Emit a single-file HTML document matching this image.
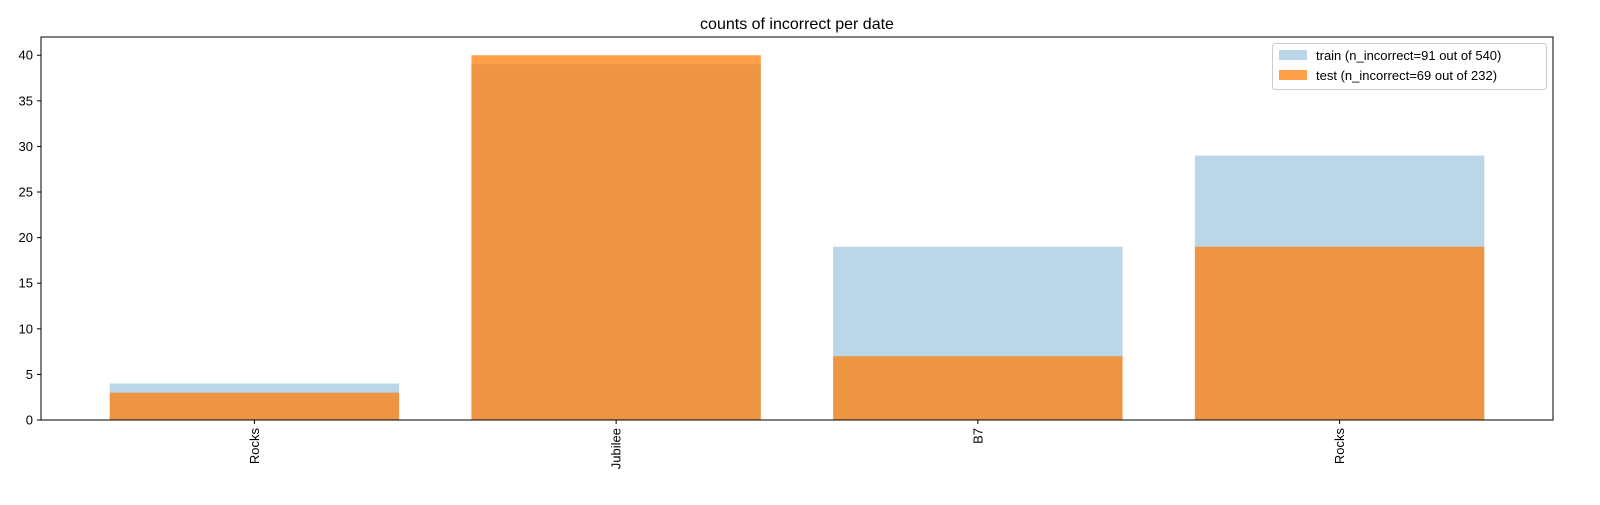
<!DOCTYPE html>
<html><head><meta charset="utf-8"><style>
body{margin:0;background:#fff;}
svg{font-family:"Liberation Sans","DejaVu Sans",sans-serif;}
</style></head><body>
<svg id="chart" width="1600" height="500" xmlns="http://www.w3.org/2000/svg">
<rect width="1600" height="500" fill="#fff"/>
<text x="797" y="29" font-size="16" text-anchor="middle">counts of incorrect per date</text>
<g id="bars"></g>
<g id="axes"></g>
<rect x="41" y="37" width="1512" height="383" fill="none" stroke="#000" stroke-width="1"/>
<g>
<rect x="1272.5" y="43.5" width="274" height="46" rx="3" fill="#fff" fill-opacity="0.8" stroke="#ccc"/>
<g>
<rect x="1279" y="50" width="28" height="10" fill="#1f77b4" fill-opacity="0.3"/>
<text x="1316" y="60" font-size="13">train (n_incorrect=91 out of 540)</text>
</g>
<g>
<rect x="1279" y="70" width="28" height="10" fill="#ff7f0e" fill-opacity="0.75"/>
<text x="1316" y="80" font-size="13">test (n_incorrect=69 out of 232)</text>
</g>
</g>
</svg>
<script>
const categories = ["Rocks","Jubilee","B7","Rocks"];
const trainValues = [4,39,19,29];
const testValues = [3,40,7,19];
const yTicks = [0,5,10,15,20,25,30,35,40];

const L=41,R=1553,T=37,B=420;
const xMin=-0.59,xMax=3.59,yMax=42;
const x=v=>L+(v-xMin)/(xMax-xMin)*(R-L);
const y=v=>B-v/yMax*(B-T);
const NS="http://www.w3.org/2000/svg";
const bars=document.getElementById('bars'),axes=document.getElementById('axes');
function mk(tag,attrs,parent){const e=document.createElementNS(NS,tag);for(const k in attrs)e.setAttribute(k,attrs[k]);parent.appendChild(e);return e;}
function drawSeries(vals,color,op,name){
  vals.forEach((v,i)=>{
    const r=mk('rect',{x:x(i-0.4),y:y(v),width:x(i+0.4)-x(i-0.4),height:y(0)-y(v),fill:color,'fill-opacity':op},bars);
    
    
  });
}
drawSeries(trainValues,'#1f77b4',0.3,'train');
drawSeries(testValues,'#ff7f0e',0.75,'test');
yTicks.forEach(t=>{
  const yy=y(t);
  mk('line',{x1:L-4,x2:L,y1:yy,y2:yy,stroke:'#000'},axes);
  const tx=mk('text',{x:L-8,y:yy+4.5,'font-size':13,'text-anchor':'end'},axes);
  tx.textContent=t;
  
  
});
categories.forEach((c,i)=>{
  const xx=x(i);
  mk('line',{x1:xx,x2:xx,y1:B,y2:B+4,stroke:'#000'},axes);
  const tx=mk('text',{x:0,y:0,'font-size':13,'text-anchor':'end',transform:`translate(${xx+4.5},${B+8}) rotate(-90)`},axes);
  tx.textContent=c;
  
  
});
</script>
</body></html>
